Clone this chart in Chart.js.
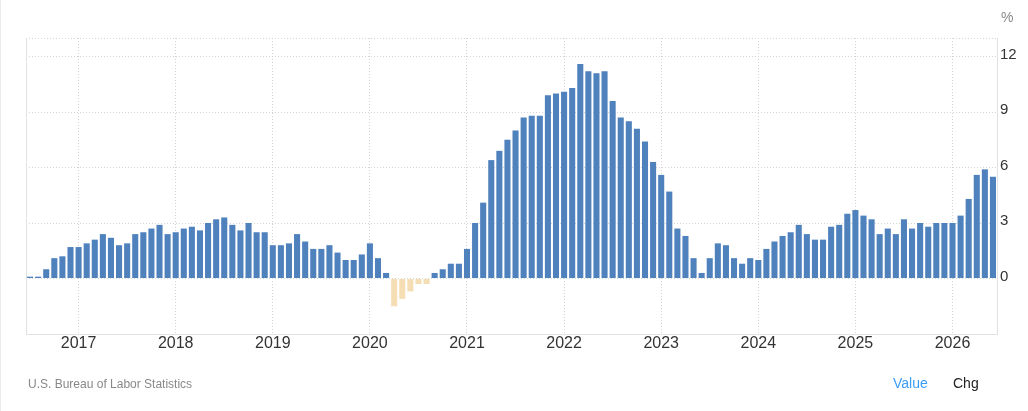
<!DOCTYPE html>
<html>
<head>
<meta charset="utf-8">
<script src="https://cdn.jsdelivr.net/npm/chart.js@4.4.1/dist/chart.umd.min.js"></script>
<style>
  html, body { margin: 0; padding: 0; background: #fff; }
  body { width: 1028px; height: 411px; position: relative; overflow: hidden; font-family: Arial, "Liberation Sans", sans-serif; }
  #wrap { position: absolute; left: 0; top: 0; width: 1028px; height: 411px; }
  .txt { position: absolute; white-space: nowrap; line-height: 1; }
  #edge { position: absolute; left: 0; top: 0; width: 0; height: 411px; border-left: 1px solid #ececec; }
</style>
</head>
<body>
<div id="edge"></div>
<div id="wrap"><canvas id="chart"></canvas></div>
<div class="txt" style="left:1001px;top:10px;font-size:14px;color:#888;">%</div>
<div class="txt" style="left:28px;top:378px;font-size:12px;color:#888;">U.S. Bureau of Labor Statistics</div>
<div class="txt" style="left:893px;top:376px;font-size:14px;color:#3a9df5;">Value</div>
<div class="txt" style="left:953px;top:376px;font-size:14px;color:#222;">Chg</div>
<script>
// monthly bars, Jul 2016 -> Jun 2026
const years = [2016, 2017, 2018, 2019, 2020, 2021, 2022, 2023, 2024, 2025, 2026];
const months = ["Jan", "Feb", "Mar", "Apr", "May", "Jun", "Jul", "Aug", "Sep", "Oct", "Nov", "Dec"];

const values = [
  0.1, 0.1, 0.5, 1.1, 1.2, 1.7,                                   // 2016 Jul-Dec
  1.7, 1.9, 2.1, 2.4, 2.2, 1.8, 1.9, 2.4, 2.5, 2.7, 2.9, 2.4,     // 2017
  2.5, 2.7, 2.8, 2.6, 3.0, 3.2, 3.3, 2.9, 2.6, 3.0, 2.5, 2.5,     // 2018
  1.8, 1.8, 1.9, 2.4, 2.0, 1.6, 1.6, 1.8, 1.4, 1.0, 1.0, 1.3,     // 2019
  1.9, 1.1, 0.3, -1.5, -1.1, -0.7, -0.3, -0.3, 0.3, 0.5, 0.8, 0.8, // 2020
  1.6, 3.0, 4.1, 6.4, 6.9, 7.5, 8.0, 8.7, 8.8, 8.8, 9.9, 10.0,    // 2021
  10.1, 10.3, 11.6, 11.2, 11.1, 11.2, 9.6, 8.7, 8.5, 8.1, 7.4, 6.3, // 2022
  5.6, 4.7, 2.7, 2.3, 1.1, 0.3, 1.1, 1.9, 1.8, 1.1, 0.8, 1.1,     // 2023
  1.0, 1.6, 2.0, 2.3, 2.5, 2.9, 2.4, 2.1, 2.1, 2.8, 2.9, 3.5,     // 2024
  3.7, 3.4, 3.2, 2.4, 2.7, 2.4, 3.2, 2.7, 3.0, 2.8, 3.0, 3.0,     // 2025
  3.0, 3.4, 4.3, 5.6, 5.9, 5.5                                    // 2026 Jan-Jun
];

const yTickValues = [0, 3, 6, 9, 12];
const yMin = -3;
const yMax = 13;

// category labels "Mon YYYY", starting at Jul 2016
const labels = [];
years.forEach((yr) => {
  months.forEach((m) => { labels.push(m + " " + yr); });
});
const firstIdx = labels.indexOf("Jul 2016");
const catLabels = labels.slice(firstIdx, firstIdx + values.length);

const gridColor = "#d4d4d4";
const borderColor = "#e2e2e2";

Chart.defaults.font.family = 'Arial, "Liberation Sans", sans-serif';

new Chart(document.getElementById("chart"), {
  type: "bar",
  data: {
    labels: catLabels,
    datasets: [
      {
        data: values,
        yAxisID: "y",
        backgroundColor: (ctx) => (ctx.raw < 0 ? "#f5deb3" : "#4f81bd"),
        categoryPercentage: 1,
        barPercentage: 0.75,
        borderWidth: 0,
      },
    ],
  },
  options: {
    responsive: true,
    maintainAspectRatio: false,
    animation: false,
    layout: { padding: { left: 26, top: 38, right: 0, bottom: 47 } },
    scales: {
      x: {
        type: "category",
        offset: true,
        afterBuildTicks: (s) => {
          s.ticks = s.ticks.filter((t) => catLabels[t.value].startsWith("Jan"));
        },
        afterFit: (s) => { s.height = 30; },
        ticks: {
          autoSkip: false,
          maxRotation: 0,
          padding: 0,
          color: "#333",
          font: { size: 16 },
          callback: (v) => catLabels[v].slice(4),
        },
        grid: { offset: false, drawTicks: false, color: gridColor },
        border: { display: true, color: borderColor, dash: [1, 2] },
      },
      y: {
        type: "linear",
        position: "right",
        min: yMin,
        max: yMax,
        afterBuildTicks: (s) => {
          s.ticks = [yMin, ...yTickValues, yMax].map((v) => ({ value: v }));
        },
        afterFit: (s) => { s.width = 31; },
        ticks: {
          padding: 3,
          labelOffset: -2,
          color: "#333",
          font: { size: 15 },
          callback: (v) => (yTickValues.includes(v) ? v : ""),
        },
        grid: {
          drawTicks: false,
          color: (c) => (c.tick && c.tick.value === yMin ? "rgba(0,0,0,0)" : gridColor),
        },
        border: { display: true, color: borderColor, dash: [1, 2] },
      },
      yLeft: {
        type: "linear",
        position: "left",
        afterFit: (s) => { s.width = 0; },
        ticks: { display: false },
        grid: { display: true, drawOnChartArea: false, drawTicks: false },
        border: { display: true, color: borderColor },
      },
    },
    plugins: {
      legend: { display: false },
      tooltip: { enabled: false },
    },
  },
});
</script>
</body>
</html>
